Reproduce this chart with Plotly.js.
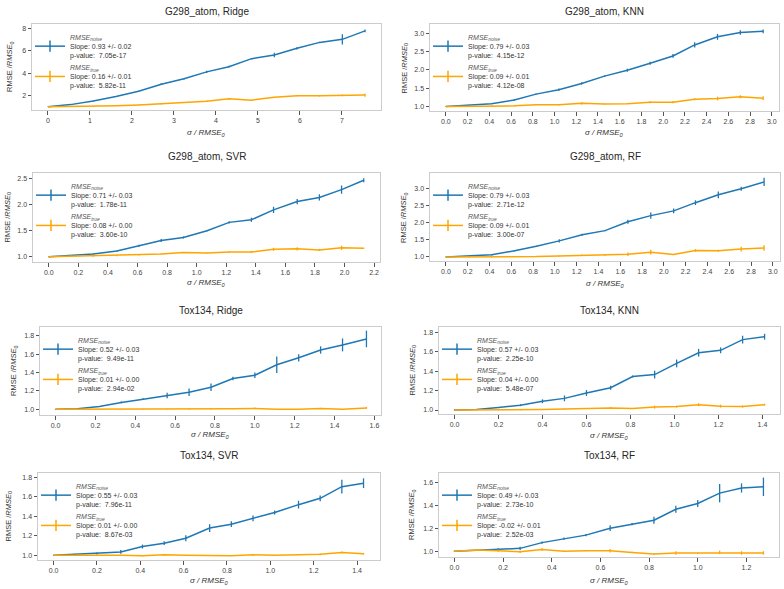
<!DOCTYPE html>
<html>
<head>
<meta charset="utf-8">
<script src="https://cdn.plot.ly/plotly-3.0.1.min.js"></script>
<style>html,body{margin:0;padding:0;background:#fff;}#chart{width:784px;height:589px;}</style>
</head>
<body>
<div id="chart"></div>
<script>
// ---------- data ----------
const titles = ["G298_atom, Ridge", "G298_atom, KNN", "G298_atom, SVR", "G298_atom, RF",
                "Tox134, Ridge", "Tox134, KNN", "Tox134, SVR", "Tox134, RF"];

const noiseSlope = ["0.93 +/- 0.02", "0.79 +/- 0.03", "0.71 +/- 0.03", "0.79 +/- 0.03",
                    "0.52 +/- 0.03", "0.57 +/- 0.03", "0.55 +/- 0.03", "0.49 +/- 0.03"];
const noiseP = ["7.05e-17", "4.15e-12", "1.78e-11", "2.71e-12", "9.49e-11", "2.25e-10", "7.96e-11", "2.73e-10"];
const trueSlope = ["0.16 +/- 0.01", "0.09 +/- 0.01", "0.08 +/- 0.00", "0.09 +/- 0.01",
                   "0.01 +/- 0.00", "0.04 +/- 0.00", "0.01 +/- 0.00", "-0.02 +/- 0.01"];
const trueP = ["5.82e-11", "4.12e-08", "3.60e-10", "3.00e-07", "2.94e-02", "5.48e-07", "8.67e-03", "2.52e-03"];

// G298_atom, Ridge
const g298RidgeX = [0, 0.54, 1.08, 1.62, 2.16, 2.70, 3.24, 3.78, 4.31, 4.85, 5.39, 5.93, 6.47, 7.01, 7.55];
const g298RidgeNoise = [1.0, 1.2, 1.52, 1.92, 2.4, 3.02, 3.5, 4.12, 4.58, 5.3, 5.62, 6.22, 6.75, 7.02, 7.78];
const g298RidgeNoiseErr = [0.02, 0.03, 0.05, 0.04, 0.04, 0.08, 0.06, 0.1, 0.08, 0.06, 0.2, 0.1, 0.06, 0.45, 0.12];
const g298RidgeTrue = [1.0, 1.02, 1.05, 1.1, 1.17, 1.27, 1.4, 1.5, 1.72, 1.6, 1.85, 2.0, 1.98, 2.02, 2.05];
const g298RidgeTrueErr = [0.01, 0.02, 0.03, 0.03, 0.03, 0.05, 0.04, 0.06, 0.06, 0.05, 0.04, 0.05, 0.06, 0.08, 0.15];

// G298_atom, KNN
const g298KnnX = [0, 0.21, 0.42, 0.63, 0.83, 1.04, 1.25, 1.46, 1.67, 1.88, 2.09, 2.29, 2.50, 2.71, 2.92];
const g298KnnNoise = [1.0, 1.04, 1.08, 1.18, 1.34, 1.46, 1.63, 1.83, 1.99, 2.18, 2.38, 2.68, 2.9, 3.02, 3.05];
const g298KnnNoiseErr = [0.01, 0.01, 0.01, 0.02, 0.02, 0.03, 0.03, 0.02, 0.04, 0.04, 0.05, 0.07, 0.08, 0.06, 0.05];
const g298KnnTrue = [1.0, 1.01, 1.02, 1.02, 1.05, 1.05, 1.09, 1.07, 1.08, 1.12, 1.12, 1.2, 1.22, 1.27, 1.23];
const g298KnnTrueErr = [0.01, 0.01, 0.01, 0.01, 0.01, 0.02, 0.03, 0.01, 0.01, 0.03, 0.03, 0.03, 0.05, 0.04, 0.05];

// G298_atom, SVR
const g298SvrX = [0, 0.15, 0.30, 0.46, 0.61, 0.76, 0.91, 1.07, 1.22, 1.37, 1.52, 1.68, 1.83, 1.98, 2.13];
const g298SvrNoise = [1.0, 1.02, 1.05, 1.11, 1.21, 1.31, 1.37, 1.5, 1.66, 1.71, 1.9, 2.06, 2.14, 2.29, 2.47];
const g298SvrNoiseErr = [0.01, 0.01, 0.01, 0.01, 0.02, 0.03, 0.02, 0.01, 0.02, 0.04, 0.06, 0.05, 0.06, 0.08, 0.04];
const g298SvrTrue = [1.0, 1.01, 1.01, 1.02, 1.03, 1.05, 1.08, 1.07, 1.09, 1.09, 1.14, 1.15, 1.13, 1.17, 1.16];
const g298SvrTrueErr = [0.01, 0.01, 0.01, 0.01, 0.01, 0.01, 0.01, 0.01, 0.01, 0.02, 0.03, 0.03, 0.02, 0.04, 0.01];

// G298_atom, RF
const g298RfX = [0, 0.21, 0.42, 0.63, 0.83, 1.04, 1.25, 1.46, 1.67, 1.88, 2.09, 2.29, 2.50, 2.71, 2.92];
const g298RfNoise = [1.0, 1.02, 1.06, 1.18, 1.31, 1.47, 1.65, 1.77, 2.03, 2.21, 2.35, 2.59, 2.82, 3.0, 3.2];
const g298RfNoiseErr = [0.01, 0.01, 0.02, 0.02, 0.02, 0.05, 0.03, 0.02, 0.06, 0.09, 0.07, 0.07, 0.1, 0.06, 0.12];
const g298RfTrue = [1.0, 1.0, 1.0, 1.0, 1.01, 1.03, 1.05, 1.05, 1.08, 1.14, 1.07, 1.19, 1.18, 1.23, 1.26];
const g298RfTrueErr = [0.01, 0.01, 0.01, 0.01, 0.01, 0.01, 0.02, 0.02, 0.05, 0.07, 0.01, 0.04, 0.03, 0.07, 0.08];

// Tox134, Ridge
const toxRidgeX = [0, 0.11, 0.22, 0.33, 0.44, 0.56, 0.67, 0.78, 0.89, 1.00, 1.11, 1.22, 1.33, 1.44, 1.56];
const toxRidgeNoise = [1.0, 1.005, 1.03, 1.075, 1.11, 1.15, 1.185, 1.24, 1.335, 1.37, 1.485, 1.56, 1.645, 1.7, 1.765];
const toxRidgeNoiseErr = [0.005, 0.005, 0.005, 0.01, 0.01, 0.03, 0.04, 0.04, 0.02, 0.03, 0.09, 0.04, 0.04, 0.07, 0.09];
const toxRidgeTrue = [1.0, 1.0, 1.0, 1.0, 1.0, 1.0, 1.0, 1.0, 1.005, 1.01, 1.0, 1.0, 1.01, 1.0, 1.015];
const toxRidgeTrueErr = [0.003, 0.003, 0.003, 0.003, 0.003, 0.003, 0.006, 0.003, 0.005, 0.01, 0.003, 0.003, 0.006, 0.003, 0.01];

// Tox134, KNN
const toxKnnX = [0, 0.10, 0.20, 0.30, 0.40, 0.50, 0.60, 0.71, 0.81, 0.91, 1.01, 1.11, 1.21, 1.31, 1.41];
const toxKnnNoise = [1.0, 1.005, 1.025, 1.05, 1.09, 1.12, 1.175, 1.23, 1.345, 1.365, 1.48, 1.59, 1.615, 1.725, 1.755];
const toxKnnNoiseErr = [0.005, 0.005, 0.005, 0.01, 0.02, 0.03, 0.03, 0.02, 0.01, 0.04, 0.04, 0.04, 0.03, 0.04, 0.03];
const toxKnnTrue = [1.0, 1.0, 1.0, 1.0, 1.005, 1.01, 1.015, 1.02, 1.015, 1.03, 1.035, 1.055, 1.04, 1.035, 1.055];
const toxKnnTrueErr = [0.003, 0.003, 0.003, 0.003, 0.003, 0.005, 0.005, 0.01, 0.005, 0.015, 0.01, 0.015, 0.015, 0.01, 0.01];

// Tox134, SVR
const toxSvrX = [0, 0.10, 0.20, 0.31, 0.41, 0.51, 0.61, 0.72, 0.82, 0.92, 1.02, 1.13, 1.23, 1.33, 1.43];
const toxSvrNoise = [1.0, 1.01, 1.02, 1.035, 1.09, 1.125, 1.175, 1.28, 1.32, 1.38, 1.44, 1.52, 1.585, 1.705, 1.74];
const toxSvrNoiseErr = [0.005, 0.005, 0.01, 0.02, 0.02, 0.02, 0.03, 0.04, 0.03, 0.03, 0.02, 0.04, 0.03, 0.07, 0.05];
const toxSvrTrue = [1.0, 1.0, 1.005, 1.0, 0.995, 1.005, 1.0, 1.0, 0.995, 1.005, 1.0, 1.005, 1.01, 1.03, 1.015];
const toxSvrTrueErr = [0.003, 0.003, 0.005, 0.003, 0.005, 0.005, 0.003, 0.003, 0.003, 0.005, 0.005, 0.005, 0.008, 0.008, 0.008];

// Tox134, RF
const toxRfX = [0, 0.09, 0.18, 0.27, 0.36, 0.45, 0.54, 0.64, 0.73, 0.82, 0.91, 1.00, 1.09, 1.18, 1.27];
const toxRfNoise = [1.0, 1.01, 1.015, 1.025, 1.075, 1.11, 1.14, 1.2, 1.235, 1.27, 1.365, 1.415, 1.505, 1.55, 1.56];
const toxRfNoiseErr = [0.005, 0.005, 0.01, 0.015, 0.01, 0.01, 0.01, 0.025, 0.01, 0.03, 0.03, 0.03, 0.08, 0.04, 0.08];
const toxRfTrue = [1.0, 1.01, 1.005, 0.995, 1.015, 1.0, 1.005, 1.005, 0.99, 0.975, 0.985, 0.985, 0.99, 0.985, 0.985];
const toxRfTrueErr = [0.005, 0.005, 0.01, 0.01, 0.01, 0.005, 0.005, 0.015, 0.005, 0.005, 0.015, 0.005, 0.015, 0.015, 0.015];

// ---------- layout helpers ----------
const W = 784, H = 589;
const BLUE = "#1f77b4", ORANGE = "#ffa500";
const FONT = "Liberation Sans, Arial, Helvetica, sans-serif";

// frame pixel boxes [left, right, top, bottom]
const frames = [[32,381,24,110],[430,779,24,111],[33,380,173,262],[430,780,173,261],
                [40,381,327,415],[439,780,327,414],[38,380,473,560],[439,779,473,557]];
const xRanges = [[-0.378,7.93],[-0.146,3.066],[-0.107,2.24],[-0.146,3.066],
                 [-0.078,1.633],[-0.0705,1.48],[-0.072,1.506],[-0.0635,1.334]];
const yRanges = [[0.72,8.39],[0.88,3.25],[0.897,2.61],[0.88,3.46],
                 [0.938,1.895],[0.959,1.855],[0.952,1.845],[0.95,1.68]];
const xDtick = [1,0.2,0.2,0.2,0.2,0.2,0.2,0.2];
const yDtick = [2,0.5,0.5,0.5,0.2,0.2,0.2,0.2];
const xFmt = ["d",".1f",".1f",".1f",".1f",".1f",".1f",".1f"];
const yFmt = ["d",".1f",".1f",".1f",".1f",".1f",".1f",".1f"];
const yTitleX = [10,404,7,404,14,412,8,412];
const xTitleY = [133,133,283,284,435,436,581,581];
const titleY = [12,12,157,157,310,310,455,455];

const series = [
  [g298RidgeX, g298RidgeNoise, g298RidgeNoiseErr, g298RidgeTrue, g298RidgeTrueErr],
  [g298KnnX, g298KnnNoise, g298KnnNoiseErr, g298KnnTrue, g298KnnTrueErr],
  [g298SvrX, g298SvrNoise, g298SvrNoiseErr, g298SvrTrue, g298SvrTrueErr],
  [g298RfX, g298RfNoise, g298RfNoiseErr, g298RfTrue, g298RfTrueErr],
  [toxRidgeX, toxRidgeNoise, toxRidgeNoiseErr, toxRidgeTrue, toxRidgeTrueErr],
  [toxKnnX, toxKnnNoise, toxKnnNoiseErr, toxKnnTrue, toxKnnTrueErr],
  [toxSvrX, toxSvrNoise, toxSvrNoiseErr, toxSvrTrue, toxSvrTrueErr],
  [toxRfX, toxRfNoise, toxRfNoiseErr, toxRfTrue, toxRfTrueErr]
];

const traces = [];
const layout = {
  width: W, height: H,
  margin: {l:0, r:0, t:0, b:0},
  paper_bgcolor: "#fff", plot_bgcolor: "#fff",
  font: {family: FONT, size: 7, color: "#333"},
  showlegend: true,
  annotations: []
};

function label(kind, slope, p) {
  return '<span style="color:#555"><i>RMSE<sub>' + kind + '</sub></i></span><br>Slope: ' + slope +
         '<br>p-value:\u00a0 ' + p;
}

series.forEach((s, i) => {
  const n = i + 1;
  const xa = n === 1 ? "x" : "x" + n, ya = n === 1 ? "y" : "y" + n;
  const lg = n === 1 ? "legend" : "legend" + n;
  const f = frames[i];
  const [xs, noise, noiseErr, tru, truErr] = s;

  traces.push({x: xs, y: noise, xaxis: xa, yaxis: ya, type: "scatter", mode: "lines",
    line: {color: BLUE, width: 1.5}, showlegend: false, hoverinfo: "skip",
    error_y: {type: "data", array: noiseErr, visible: true, color: BLUE, thickness: 1.3, width: 0}});
  traces.push({x: xs, y: tru, xaxis: xa, yaxis: ya, type: "scatter", mode: "lines",
    line: {color: ORANGE, width: 1.5}, showlegend: false, hoverinfo: "skip",
    error_y: {type: "data", array: truErr, visible: true, color: ORANGE, thickness: 1.3, width: 0}});
  // legend entries
  [[BLUE, label("noise", noiseSlope[i], noiseP[i])], [ORANGE, label("true", trueSlope[i], trueP[i])]].forEach(([c, name]) => {
    traces.push({x: [null], y: [null], xaxis: xa, yaxis: ya, type: "scatter", mode: "lines+markers",
      name: name, legend: lg, line: {color: c, width: 1.5},
      marker: {symbol: "line-ns-open", size: 8, color: c, line: {color: c, width: 1.5}}});
  });

  const axCommon = {showline: true, mirror: true, linecolor: "#cccccc", linewidth: 1,
    ticks: "outside", ticklen: 3.5, tickwidth: 1, tickcolor: "#555",
    tickfont: {size: 7, color: "#444", family: FONT}, showgrid: false, zeroline: false, automargin: false};
  layout["xaxis" + (n === 1 ? "" : n)] = Object.assign({}, axCommon, {
    domain: [f[0]/W, f[1]/W], anchor: ya, range: xRanges[i], dtick: xDtick[i], tick0: 0, tickformat: xFmt[i]});
  layout["yaxis" + (n === 1 ? "" : n)] = Object.assign({}, axCommon, {
    domain: [1 - f[3]/H, 1 - f[2]/H], anchor: xa, range: yRanges[i], dtick: yDtick[i], tick0: 0, tickformat: yFmt[i]});

  layout[lg] = {x: (f[0] - 2)/W, y: 1 - (f[2] + 2)/H, xanchor: "left", yanchor: "top",
    bgcolor: "rgba(255,255,255,0)", borderwidth: 0, font: {size: 7, color: "#333", family: FONT},
    tracegroupgap: 0, valign: "middle", itemwidth: 30};

  // subplot title
  layout.annotations.push({text: titles[i], xref: "paper", yref: "paper", x: (f[0] + f[1]) / 2 / W,
    y: 1 - titleY[i]/H, xanchor: "center", yanchor: "middle", showarrow: false,
    font: {size: 10, color: "#262626", family: FONT}});
  // x title
  layout.annotations.push({text: "<i>σ / RMSE<sub>0</sub></i>", xref: "paper", yref: "paper",
    x: (f[0] + f[1]) / 2 / W, y: 1 - xTitleY[i]/H, xanchor: "center", yanchor: "middle", showarrow: false,
    font: {size: 8, color: "#333", family: FONT}});
  // y title
  layout.annotations.push({text: "RMSE /<i>RMSE</i><sub>0</sub>", xref: "paper", yref: "paper",
    x: yTitleX[i]/W, y: 1 - (f[2] + f[3]) / 2 / H, xanchor: "center", yanchor: "middle", textangle: -90,
    showarrow: false, font: {size: 7.5, color: "#333", family: FONT}});
});

Plotly.newPlot("chart", traces, layout, {staticPlot: true});
</script>
</body>
</html>
